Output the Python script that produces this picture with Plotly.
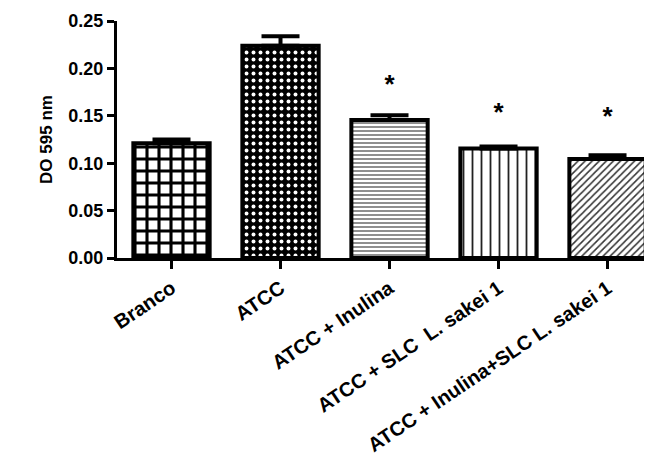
import plotly.graph_objects as go

categories = ["Branco", "ATCC", "ATCC + Inulina", "ATCC + SLC  L. sakei 1", "ATCC + Inulina+SLC L. sakei 1"]
means = [0.121, 0.224, 0.1455, 0.1155, 0.1045]
errors = [0.004, 0.010, 0.005, 0.002, 0.004]
star_labels = ["", "", "*", "*", "*"]
star_y = [None, None, 0.181, 0.151, 0.147]
y_ticks = [0.00, 0.05, 0.10, 0.15, 0.20, 0.25]

FONT = "Liberation Sans, Arial, sans-serif"

fig = go.Figure()
fig.add_trace(go.Bar(
    x=list(range(len(categories))),
    y=means,
    width=0.7,
    marker=dict(
        color="white",
        line=dict(color="black", width=4),
        pattern=dict(
            shape=["+", ".", "-", "|", "/"],
            fgcolor=["black", "white", "#444", "#222", "#333"],
            bgcolor=["white", "black", "white", "white", "white"],
            size=[12, 7, 4, 9, 5],
            solidity=[0.45, 0.25, 0.3, 0.2, 0.3],
            fillmode="replace",
        ),
    ),
    error_y=dict(type="data", array=errors, arrayminus=[0] * len(errors),
                 symmetric=False, color="black", thickness=4, width=19),
    showlegend=False,
))

fig.add_trace(go.Scatter(
    x=list(range(len(categories))),
    y=star_y,
    mode="text",
    text=star_labels,
    textfont=dict(family=FONT, size=26, color="black", weight="bold"),
    textposition="middle center",
    showlegend=False,
    hoverinfo="skip",
))

fig.update_layout(
    width=644, height=466,
    margin=dict(l=109, r=0, t=13, b=216),
    paper_bgcolor="white",
    plot_bgcolor="white",
    font=dict(family=FONT, color="black", weight="bold"),
    bargap=0.3,
)
fig.update_xaxes(
    range=[-0.5, 4.408],
    automargin=False,
    tickmode="array",
    tickvals=list(range(len(categories))),
    ticktext=categories,
    tickangle=-34,
    tickfont=dict(family=FONT, size=20, color="black", weight="bold"),
    showline=True, linecolor="black", linewidth=3,
    ticks="outside", ticklen=8, tickwidth=3, tickcolor="black",
    showgrid=False, zeroline=False,
)
fig.update_yaxes(
    range=[0, 0.25],
    automargin=False,
    tickmode="array",
    tickvals=y_ticks,
    ticktext=[f"{v:.2f}" for v in y_ticks],
    tickfont=dict(family=FONT, size=18, color="black", weight="bold"),
    showline=True, linecolor="black", linewidth=3,
    ticks="outside", ticklen=7, tickwidth=3, tickcolor="black",
    showgrid=False, zeroline=False,
    title=dict(text="DO 595 nm", font=dict(family=FONT, size=17, color="black", weight="bold"), standoff=12),
)

fig.write_html("out.html")
